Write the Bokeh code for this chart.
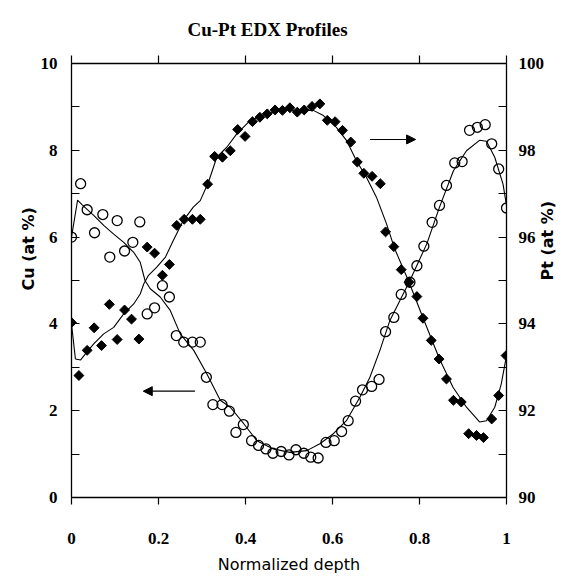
import math
from bokeh.plotting import figure
from bokeh.models import Range1d, LinearAxis, FixedTicker, Arrow, NormalHead, Title
from bokeh.embed import file_html
from bokeh.resources import INLINE

# ---- data ----
cu_x = [0.0, 0.021, 0.036, 0.053, 0.072, 0.088, 0.105, 0.122, 0.141, 0.157,
        0.174, 0.191, 0.209, 0.225, 0.241, 0.258, 0.278, 0.296, 0.310, 0.325,
        0.346, 0.363, 0.378, 0.395, 0.414, 0.430, 0.447, 0.463, 0.482, 0.500,
        0.516, 0.534, 0.550, 0.567, 0.585, 0.604, 0.621, 0.636, 0.653, 0.669,
        0.690, 0.707, 0.722, 0.741, 0.758, 0.778, 0.794, 0.810, 0.829, 0.846,
        0.862, 0.881, 0.898, 0.915, 0.933, 0.951, 0.966, 0.982, 1.0]
cu_y = [6.00, 7.23, 6.63, 6.10, 6.52, 5.54, 6.38, 5.68, 5.88, 6.35,
        4.23, 4.37, 4.88, 4.62, 3.73, 3.58, 3.58, 3.58, 2.77, 2.14,
        2.14, 1.99, 1.50, 1.68, 1.31, 1.20, 1.12, 1.02, 1.06, 0.98,
        1.10, 1.02, 0.93, 0.91, 1.27, 1.31, 1.52, 1.77, 2.22, 2.48,
        2.56, 2.72, 3.82, 4.15, 4.68, 4.96, 5.34, 5.79, 6.34, 6.73,
        7.19, 7.71, 7.74, 8.46, 8.53, 8.59, 8.15, 7.57, 6.67]

pt_x = [0.0, 0.017, 0.036, 0.052, 0.069, 0.087, 0.105, 0.122, 0.138, 0.155,
        0.174, 0.191, 0.209, 0.225, 0.242, 0.259, 0.278, 0.296, 0.313, 0.329,
        0.347, 0.365, 0.382, 0.399, 0.416, 0.433, 0.450, 0.468, 0.485, 0.502,
        0.519, 0.535, 0.553, 0.571, 0.588, 0.606, 0.623, 0.642, 0.657, 0.672,
        0.691, 0.710, 0.722, 0.741, 0.758, 0.776, 0.794, 0.808, 0.827, 0.845,
        0.862, 0.878, 0.896, 0.913, 0.931, 0.947, 0.966, 0.982, 0.999]
pt_y = [94.03, 92.81, 93.39, 93.91, 93.50, 94.45, 93.64, 94.32, 94.11, 93.65,
        95.77, 95.63, 95.12, 95.37, 96.27, 96.41, 96.41, 96.41, 97.22, 97.86,
        97.84, 97.99, 98.48, 98.32, 98.66, 98.76, 98.84, 98.93, 98.92, 98.98,
        98.88, 98.93, 99.01, 99.07, 98.69, 98.66, 98.46, 98.19, 97.73, 97.47,
        97.40, 97.23, 96.12, 95.78, 95.25, 94.96, 94.63, 94.13, 93.62, 93.19,
        92.73, 92.24, 92.20, 91.47, 91.43, 91.38, 91.81, 92.35, 93.27]

cu_fit_x = [0.0, 0.014, 0.024, 0.051, 0.074, 0.097, 0.12, 0.143, 0.158, 0.169,
            0.181, 0.204, 0.227, 0.250, 0.281, 0.311, 0.342, 0.365, 0.396, 0.426,
            0.464, 0.502, 0.541, 0.571, 0.602, 0.632, 0.663, 0.686, 0.709, 0.732,
            0.755, 0.778, 0.817, 0.846, 0.878, 0.908, 0.938, 0.954, 0.973, 0.992, 1.0]
cu_fit_y = [6.00, 6.85, 6.75, 6.50, 6.27, 6.07, 5.88, 5.65, 5.42, 5.00,
            4.81, 4.62, 4.31, 3.77, 3.39, 2.85, 2.24, 2.08, 1.70, 1.31,
            1.12, 1.04, 1.08, 1.24, 1.47, 1.77, 2.31, 2.77, 3.39, 4.08,
            4.54, 5.00, 5.85, 6.69, 7.53, 7.99, 8.23, 8.21, 7.84, 7.22, 6.73]

pt_fit_x = [0.0, 0.009, 0.021, 0.032, 0.051, 0.074, 0.097, 0.12, 0.143, 0.158,
            0.166, 0.177, 0.196, 0.216, 0.234, 0.257, 0.280, 0.296, 0.315, 0.334,
            0.357, 0.380, 0.411, 0.449, 0.487, 0.525, 0.556, 0.579, 0.609, 0.632,
            0.655, 0.678, 0.701, 0.724, 0.743, 0.776, 0.808, 0.846, 0.877, 0.908,
            0.938, 0.954, 0.973, 0.988, 1.0]
pt_fit_y = [94.00, 93.19, 93.17, 93.31, 93.54, 93.77, 93.92, 94.23, 94.46, 94.69,
            94.92, 95.12, 95.31, 95.54, 95.92, 96.38, 96.69, 96.84, 97.27, 97.84,
            98.07, 98.38, 98.69, 98.84, 98.93, 98.92, 98.92, 98.80, 98.53, 98.23,
            97.76, 97.38, 96.92, 96.31, 95.73, 94.96, 94.14, 93.19, 92.54, 92.08,
            91.74, 91.77, 92.08, 92.62, 93.27]

x_ticks = [0, 0.2, 0.4, 0.6, 0.8, 1]
x_tick_labels = ["0", "0.2", "0.4", "0.6", "0.8", "1"]
cu_ticks = [0, 2, 4, 6, 8, 10]
cu_minor = [1, 3, 5, 7, 9]
pt_ticks = [90, 92, 94, 96, 98, 100]
pt_minor = [91, 93, 95, 97, 99]

# arrows: (x_start, x_end, y) on the Cu scale
cu_arrow = (0.284, 0.165, 2.45)
pt_arrow = (0.686, 0.791, 8.25)

SERIF = "Liberation Serif"
SANS = "DejaVu Sans"

p = figure(width=569, height=577, x_range=Range1d(0, 1), y_range=Range1d(0, 10),
           output_backend="svg", toolbar_location=None,
           min_border_left=71, min_border_right=62, min_border_top=63, min_border_bottom=80)
p.extra_y_ranges = {"pt": Range1d(90, 100)}
p.xgrid.visible = False
p.ygrid.visible = False
p.outline_line_color = None
p.background_fill_color = "white"
p.border_fill_color = "white"

p.title.text = "Cu-Pt EDX Profiles"
p.title.align = "left"
p.title.offset = 116
p.title.text_font = SERIF
p.title.text_font_style = "bold"
p.title.text_font_size = "19px"
p.title.text_color = "black"
p.title.standoff = 32

def style_axis(ax):
    ax.axis_line_color = "black"
    ax.axis_line_width = 1.3
    ax.major_tick_line_color = "black"
    ax.minor_tick_line_color = "black"
    ax.major_tick_line_width = 1.2
    ax.minor_tick_line_width = 1.2
    ax.major_label_text_font = SERIF
    ax.major_label_text_font_style = "bold"
    ax.major_label_text_font_size = "17px"
    ax.major_label_text_color = "black"
    ax.axis_label_text_color = "black"

# bottom axis
xa = p.xaxis[0]
style_axis(xa)
xa.ticker = FixedTicker(ticks=x_ticks)
xa.major_label_overrides = {float(t): l for t, l in zip(x_ticks, x_tick_labels)}
xa.major_tick_in = 0
xa.major_tick_out = 7
xa.major_label_standoff = 28
xa.axis_label = "Normalized depth"
xa.axis_label_text_font = SANS
xa.axis_label_text_font_style = "normal"
xa.axis_label_text_font_size = "16px"
xa.axis_label_standoff = 8

# left axis
ya = p.yaxis[0]
style_axis(ya)
ya.ticker = FixedTicker(ticks=cu_ticks, minor_ticks=cu_minor)
ya.major_tick_in = 8
ya.major_tick_out = 0
ya.minor_tick_in = 8
ya.minor_tick_out = 0
ya.major_label_standoff = 14

# left-side title used as the Cu axis title (sits above centre, as in the reference)
cu_title = Title(text="Cu (at %)", align="left", offset=207, standoff=0,
                 text_font=SANS, text_font_style="bold", text_font_size="16px",
                 text_color="black")
p.add_layout(cu_title, "left")

# right axis
ra = LinearAxis(y_range_name="pt")
style_axis(ra)
ra.ticker = FixedTicker(ticks=pt_ticks, minor_ticks=pt_minor)
ra.major_tick_in = 8
ra.major_tick_out = 0
ra.minor_tick_in = 8
ra.minor_tick_out = 0
ra.major_label_standoff = 12
ra.axis_label = "Pt (at %)"
ra.axis_label_text_font = SANS
ra.axis_label_text_font_style = "bold"
ra.axis_label_text_font_size = "16px"
ra.axis_label_standoff = 0
ra.axis_label_orientation = math.pi / 2
p.add_layout(ra, "right")

# top axis (ticks only)
ta = LinearAxis()
style_axis(ta)
ta.ticker = FixedTicker(ticks=x_ticks)
ta.major_label_overrides = {float(t): "" for t in x_ticks}
ta.major_tick_in = 0
ta.major_tick_out = 8
ta.major_label_text_font_size = "0px"
ta.major_label_standoff = 0
p.add_layout(ta, "above")

# fitted curves
p.line(cu_fit_x, cu_fit_y, line_color="black", line_width=1.1)
p.line(pt_fit_x, pt_fit_y, line_color="black", line_width=1.1, y_range_name="pt")

# data points
p.scatter(cu_x, cu_y, marker="circle", size=10, fill_color=None,
          line_color="black", line_width=1.3)
p.scatter(pt_x, pt_y, marker="square", angle=0.785398, size=7,
          fill_color="black", line_color="black", y_range_name="pt")

# arrows
p.add_layout(Arrow(end=NormalHead(size=9, fill_color="black", line_color="black"),
                   x_start=cu_arrow[0], x_end=cu_arrow[1], y_start=cu_arrow[2], y_end=cu_arrow[2],
                   line_color="black", line_width=1.1))
p.add_layout(Arrow(end=NormalHead(size=9, fill_color="black", line_color="black"),
                   x_start=pt_arrow[0], x_end=pt_arrow[1], y_start=pt_arrow[2], y_end=pt_arrow[2],
                   line_color="black", line_width=1.1))

open("out.html", "w").write(file_html(p, INLINE))
